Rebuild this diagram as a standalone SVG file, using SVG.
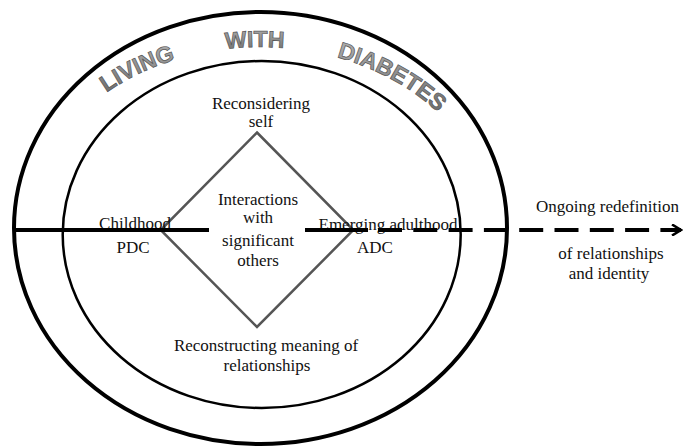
<svg xmlns="http://www.w3.org/2000/svg" width="683" height="447" viewBox="0 0 683 447">
<style>
.lbl{font-family:'Liberation Serif','Times New Roman',Times,'DejaVu Serif',serif;font-size:17px;fill:#111;text-anchor:middle}
.arc{font-family:'Liberation Sans',Arial,sans-serif;font-weight:bold;font-size:23px;fill:url(#gray);stroke:#555;stroke-width:0.7;text-anchor:middle}
.ring{fill:none;stroke:#000}
.line{fill:none;stroke:#000;stroke-width:4}
</style>
<defs>
<linearGradient id="gray" x1="0" y1="0" x2="0" y2="1">
<stop offset="0" stop-color="#b0b0b0"/>
<stop offset="1" stop-color="#6a6a6a"/>
</linearGradient>
<path id="textArc" d="M 28 229 A 232 182 0 0 1 492 229"/>
<marker id="chev" viewBox="0 0 12 12" refX="10" refY="6" markerWidth="12" markerHeight="12" markerUnits="userSpaceOnUse" orient="auto">
<polyline points="1,0.5 10,6 1,11.5" fill="none" stroke="#000" stroke-width="2.6"/>
</marker>
</defs>
<g id="outer-ring">
<ellipse class="ring" cx="260.5" cy="228" rx="246.5" ry="216" stroke-width="4"/>
<text class="arc"><textPath href="#textArc" startOffset="202">LIVING</textPath></text>
<text class="arc"><textPath href="#textArc" startOffset="321">WITH</textPath></text>
<text class="arc"><textPath href="#textArc" startOffset="462">DIABETES</textPath></text>
</g>
<g id="inner-ring">
<ellipse class="ring" cx="261.7" cy="234.5" rx="199" ry="173.5" stroke-width="2.5"/>
</g>
<g id="diamond">
<polygon points="257,132.5 353.3,230 257,327 160.7,230" fill="none" stroke="#555" stroke-width="2.5"/>
<text class="lbl" x="258" y="205" font-family="Liberation Serif, serif">Interactions</text>
<text class="lbl" x="258" y="223" font-family="Liberation Serif, serif">with</text>
<text class="lbl" x="258" y="246" font-family="Liberation Serif, serif">significant</text>
<text class="lbl" x="258" y="266" font-family="Liberation Serif, serif">others</text>
</g>
<g id="reconsidering-self">
<text class="lbl" x="261" y="109">Reconsidering</text>
<text class="lbl" x="261" y="127">self</text>
</g>
<g id="reconstructing">
<text class="lbl" x="266" y="351">Reconstructing meaning of</text>
<text class="lbl" x="267" y="371">relationships</text>
</g>
<g id="childhood">
<text class="lbl" x="135" y="229">Childhood</text>
<text class="lbl" x="133" y="253">PDC</text>
</g>
<g id="emerging-adulthood">
<text class="lbl" x="388" y="230">Emerging adulthood</text>
<text class="lbl" x="375" y="253">ADC</text>
</g>
<g id="ongoing">
<text class="lbl" x="607.5" y="212">Ongoing redefinition</text>
<text class="lbl" x="611" y="259">of relationships</text>
<text class="lbl" x="609" y="279">and identity</text>
</g>
<g id="connectors">
<line class="line" x1="13" y1="230" x2="209" y2="230"/>
<line class="line" x1="305" y1="230" x2="368" y2="230"/>
<line class="line" x1="378" y1="230" x2="681" y2="230" stroke-dasharray="24 11.3" marker-end="url(#chev)"/>
</g>
</svg>
